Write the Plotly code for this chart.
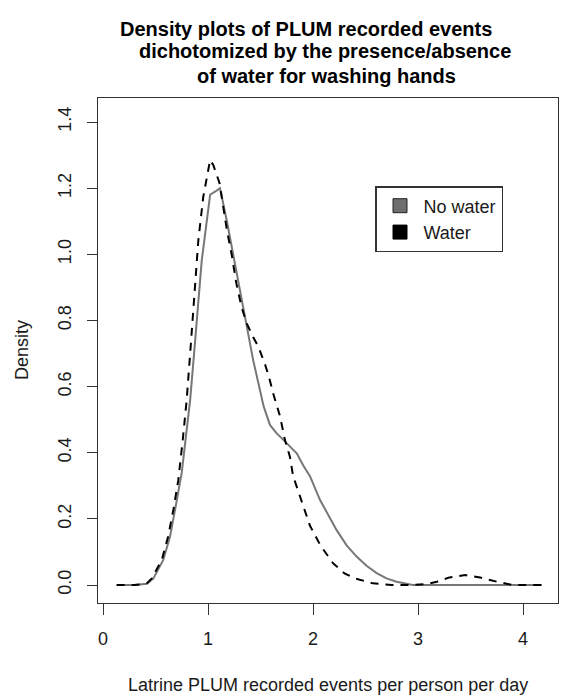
import plotly.graph_objects as go

title_lines = ["Density plots of PLUM recorded events",
               "dichotomized by the presence/absence",
               "of water for washing hands"]
x_label = "Latrine PLUM recorded events per person per day"
y_label = "Density"
series_names = ["No water", "Water"]

nowater_x = [0.13, 0.30, 0.42, 0.48, 0.574, 0.638, 0.686, 0.72, 0.75, 0.79,
             0.83, 0.87, 0.908, 0.94, 0.98, 1.02, 1.07, 1.114, 1.18, 1.24,
             1.305, 1.37, 1.43, 1.48, 1.53, 1.59, 1.65, 1.72, 1.78, 1.845,
             1.91, 1.97, 2.067, 2.15, 2.225, 2.32, 2.415, 2.51, 2.606, 2.70,
             2.796, 2.95, 3.3, 3.7, 4.18]
nowater_y = [0.0, 0.0, 0.004, 0.02, 0.076, 0.146, 0.227, 0.29, 0.34, 0.45,
             0.56, 0.71, 0.862, 0.98, 1.08, 1.18, 1.19, 1.20, 1.10, 1.00,
             0.89, 0.78, 0.68, 0.61, 0.54, 0.484, 0.46, 0.438, 0.418, 0.398,
             0.36, 0.33, 0.257, 0.21, 0.166, 0.12, 0.086, 0.058, 0.036, 0.02,
             0.01, 0.0, 0.0, 0.0, 0.0]

water_x = [0.13, 0.30, 0.41, 0.465, 0.56, 0.62, 0.67, 0.695, 0.717, 0.76,
           0.797, 0.83, 0.86, 0.876, 0.908, 0.955, 0.99, 1.02, 1.05, 1.08,
           1.11, 1.145, 1.18, 1.225, 1.27, 1.32, 1.37, 1.43, 1.48, 1.54,
           1.58, 1.62, 1.686, 1.733, 1.78, 1.81, 1.876, 1.97, 2.07, 2.19,
           2.30, 2.40, 2.57, 2.75, 2.95, 3.08, 3.18, 3.30, 3.45, 3.59,
           3.75, 3.9, 4.18]
water_y = [0.0, 0.0, 0.003, 0.02, 0.076, 0.146, 0.227, 0.27, 0.317, 0.44,
           0.56, 0.70, 0.83, 0.913, 1.043, 1.174, 1.24, 1.285, 1.27, 1.245,
           1.215, 1.144, 1.073, 1.00, 0.912, 0.84, 0.79, 0.75, 0.72, 0.67,
           0.63, 0.58, 0.51, 0.438, 0.388, 0.33, 0.27, 0.18, 0.12, 0.066,
           0.035, 0.02, 0.005, 0.0, 0.0, 0.003, 0.01, 0.023, 0.03, 0.023,
           0.01, 0.0, 0.0]

x_ticks = [0, 1, 2, 3, 4]
y_ticks = [0.0, 0.2, 0.4, 0.6, 0.8, 1.0, 1.2, 1.4]

FONT = "Liberation Sans, Arial, sans-serif"
TXT = "#1a1a1a"
GRAY = "#777777"

fig = go.Figure()
fig.add_trace(go.Scatter(x=nowater_x, y=nowater_y, mode="lines",
                         line=dict(color=GRAY, width=2), showlegend=False))
fig.add_trace(go.Scatter(x=water_x, y=water_y, mode="lines",
                         line=dict(color="#000000", width=2, dash="8px,7px"),
                         showlegend=False))
# legend entries (filled squares as in the original)
fig.add_trace(go.Scatter(x=[None], y=[None], mode="markers", name=series_names[0],
                         marker=dict(symbol="square", size=14, color="#6e6e6e",
                                     line=dict(color="#222", width=1))))
fig.add_trace(go.Scatter(x=[None], y=[None], mode="markers", name=series_names[1],
                         marker=dict(symbol="square", size=14, color="#000000",
                                     line=dict(color="#000", width=1))))

W, H = 569, 696
L, R, T, B = 98, 11, 98, 93
pw, ph = W - L - R, H - T - B

def px(xp):
    return (xp - L) / pw

def py(yp):
    return (H - B - yp) / ph

annotations = []
title_pos = [(306, 29), (325, 51), (326, 76)]
for line, (xp, yp) in zip(title_lines, title_pos):
    annotations.append(dict(text="<b>%s</b>" % line, x=px(xp), y=py(yp),
                            xref="paper", yref="paper", xanchor="center",
                            yanchor="middle", showarrow=False,
                            font=dict(family=FONT, size=20, color="#000")))
annotations.append(dict(text=x_label, x=px(328), y=py(685), xref="paper",
                        yref="paper", xanchor="center", yanchor="middle",
                        showarrow=False, font=dict(family=FONT, size=18, color=TXT)))
annotations.append(dict(text=y_label, x=px(22), y=py(350), xref="paper",
                        yref="paper", xanchor="center", yanchor="middle",
                        textangle=-90, showarrow=False,
                        font=dict(family=FONT, size=18, color=TXT)))

fig.update_layout(
    width=W, height=H,
    margin=dict(l=L, r=R, t=T, b=B, autoexpand=False),
    paper_bgcolor="white", plot_bgcolor="white",
    font=dict(family=FONT, size=18, color=TXT),
    annotations=annotations,
    legend=dict(x=px(375), y=py(186), xanchor="left", yanchor="top",
                bordercolor="#333", borderwidth=1.5, bgcolor="white",
                itemwidth=37,
                font=dict(family=FONT, size=18, color=TXT)),
    xaxis=dict(range=[-0.0476, 4.333], tickvals=x_ticks,
               ticktext=[str(v) for v in x_ticks],
               showgrid=False, zeroline=False, showline=True, mirror=True,
               linecolor="#333", linewidth=1.3, ticks="outside", ticklen=11,
               tickwidth=1.3, tickcolor="#333", ticklabelstandoff=8,
               tickfont=dict(family=FONT, size=18, color=TXT)),
    yaxis=dict(range=[-0.0544, 1.4726], tickvals=y_ticks,
               ticktext=["%.1f" % v for v in y_ticks], tickangle=-90,
               showgrid=False, zeroline=False, showline=True, mirror=True,
               linecolor="#333", linewidth=1.3, ticks="outside", ticklen=10,
               tickwidth=1.3, tickcolor="#333", ticklabelstandoff=9,
               tickfont=dict(family=FONT, size=18, color=TXT)),
)

fig.write_html("out.html")
